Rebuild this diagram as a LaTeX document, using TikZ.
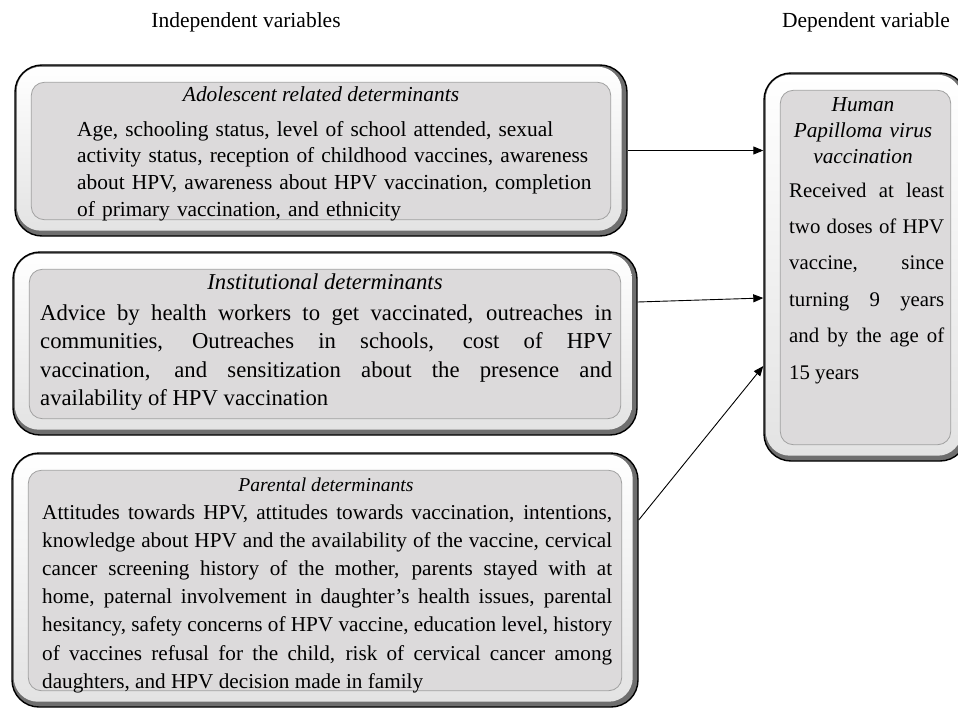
\documentclass[tikz,border=0pt]{standalone}
\usepackage{fontspec}
\setmainfont{Liberation Serif}
\usepackage{tikz}
\usetikzlibrary{arrows.meta, positioning}
\definecolor{facegray}{RGB}{220,218,219}
\definecolor{rimgray}{RGB}{160,160,160}
\definecolor{shadegray}{RGB}{110,110,110}
\hyphenpenalty=10000
\exhyphenpenalty=10000
\tolerance=9999

\begin{document}
\begin{tikzpicture}[x=1pt, y=-1pt,
    bevel/.style={rectangle, rounded corners=27pt, draw=black, line width=1.4pt, fill=shadegray, inner sep=0pt},
    rimlight/.style={rounded corners=24pt, top color=white, bottom color=gray!22},
    face/.style={rounded corners=13pt, fill=facegray, draw=rimgray, line width=0.8pt},
    head/.style={inner sep=0pt, anchor=base, font=\fontsize{21.5}{24}\selectfont},
    ttl/.style={inner sep=0pt, anchor=base, align=center},
    body/.style={inner sep=0pt, anchor=base west, align=justify},
    arrow/.style={-{Triangle[length=10pt, width=8pt]}, line width=0.9pt}
]
\useasboundingbox (0,0) rectangle (958,709);
\clip (0,0) rectangle (958,709);

\node[head] (indep) at (246,28) {Independent variables};
\node[head] (dep) at (866,28) {Dependent variable};

\node[bevel, minimum width=612pt, minimum height=171pt] (ado) at (321,150.5) {};
\node[bevel, minimum width=624pt, minimum height=183pt] (inst) at (325,343.5) {};
\node[bevel, minimum width=626pt, minimum height=254pt] (par) at (325,580) {};
\node[bevel, minimum width=203pt, minimum height=388pt] (hpv) at (865.5,267) {};

\foreach \b in {ado,inst,par,hpv} {
  \path[rimlight] ([shift={(2.5pt,-2.5pt)}]\b.north west) rectangle ([shift={(-6pt,6pt)}]\b.south east);
  \draw[face] ([shift={(17pt,-18pt)}]\b.north west) rectangle ([shift={(-17pt,17pt)}]\b.south east);
}

\node[ttl, font=\fontsize{21.4}{26}\selectfont\itshape] (adottl) at (321,101) {Adolescent related determinants};
\node[body, align=left, text width=520pt, font=\fontsize{21.4}{26.7}\selectfont] (adotxt) at (77,136)
  {Age, schooling status, level of school attended, sexual\\
   activity status, reception of childhood vaccines, awareness\\
   about HPV, awareness about HPV vaccination, completion\\
   of primary vaccination, and ethnicity};

\node[ttl, font=\fontsize{22.7}{26}\selectfont\itshape] (instttl) at (325,289) {Institutional determinants};
\node[body, text width=572pt, font=\fontsize{22.7}{28.5}\selectfont] (insttxt) at (40,320)
  {Advice by health workers to get vaccinated, outreaches in\linebreak
   communities, Outreaches in schools, cost of HPV\linebreak
   vaccination, and sensitization about the presence and\linebreak
   availability of HPV vaccination};

\node[ttl, font=\fontsize{19.6}{24}\selectfont\itshape] (parttl) at (326,491) {Parental determinants};
\node[body, text width=570pt, font=\fontsize{21.2}{28.2}\selectfont] (partxt) at (42,519)
  {Attitudes towards HPV, attitudes towards vaccination, intentions,\linebreak
   knowledge about HPV and the availability of the vaccine, cervical\linebreak
   cancer screening history of the mother, parents stayed with at\linebreak
   home, paternal involvement in daughter's health issues, parental\linebreak
   hesitancy, safety concerns of HPV vaccine, education level, history\linebreak
   of vaccines refusal for the child, risk of cervical cancer among\linebreak
   daughters, and HPV decision made in family};

\node[ttl, text width=170pt, font=\fontsize{21.3}{26}\selectfont\itshape] (hpvttl) at (863,111) {Human\\Papilloma virus\\vaccination};
\node[body, text width=155pt, font=\fontsize{20.8}{36.4}\selectfont] (hpvtxt) at (789,197)
  {Received at least\linebreak
   two doses of HPV\linebreak
   vaccine, since\linebreak
   turning 9 years\linebreak
   and by the age of\linebreak
   15 years};

\draw[arrow] (ado.east) -- (ado.east -| hpv.west);
\draw[arrow] ([yshift=41.5pt]inst.east) -- ([yshift=-31pt]hpv.west);
\draw[arrow] ([yshift=60pt]par.east) -- ([yshift=-99pt]hpv.west);

\end{tikzpicture}
\end{document}
